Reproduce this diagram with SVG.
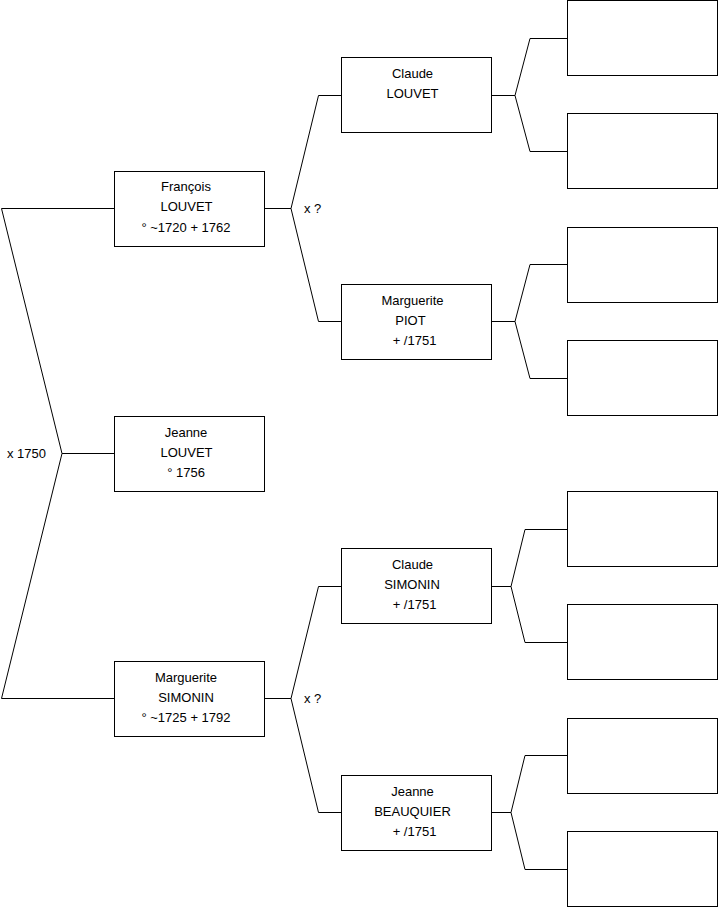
<svg xmlns="http://www.w3.org/2000/svg" width="719" height="908" viewBox="0 0 719 908">
<style>
.b{fill:#fff;stroke:#000;stroke-width:1}
.c{fill:none;stroke:#000;stroke-width:1}
text{font-family:"Liberation Sans",Arial,sans-serif;font-size:13px;fill:#000}
.m{text-anchor:middle}
</style>
<rect width="719" height="908" fill="#fff"/>
<g id="connectors">
<polyline class="c" points="114,208.5 1.5,208.5 62,453.5 1.5,698.5 114,698.5"/>
<line class="c" x1="62" y1="453.5" x2="114" y2="453.5"/>
<polyline class="c" points="341,95.5 318.5,95.5 291,208.5 318.5,321.5 341,321.5"/>
<line class="c" x1="265" y1="208.5" x2="291" y2="208.5"/>
<polyline class="c" points="341,586.5 318.5,586.5 291,698.5 318.5,812.5 341,812.5"/>
<line class="c" x1="265" y1="698.5" x2="291" y2="698.5"/>
<polyline class="c" points="567,38.5 530,38.5 515,95.5 530,151.5 567,151.5"/>
<line class="c" x1="491" y1="95.5" x2="515" y2="95.5"/>
<polyline class="c" points="567,264.5 530,264.5 515,321.5 530,378.5 567,378.5"/>
<line class="c" x1="491" y1="321.5" x2="515" y2="321.5"/>
<polyline class="c" points="567,529.5 525,529.5 511,586.5 525,642.5 567,642.5"/>
<line class="c" x1="491" y1="586.5" x2="511" y2="586.5"/>
<polyline class="c" points="567,755.5 525,755.5 511,812.5 525,869.5 567,869.5"/>
<line class="c" x1="491" y1="812.5" x2="511" y2="812.5"/>
<text x="7" y="457.5">x 1750</text>
<text x="304" y="212.5">x ?</text>
<text x="304" y="702.5">x ?</text>
</g>
<g id="francois">
<rect class="b" x="114.5" y="171.5" width="150" height="75"/>
<text class="m" x="186" y="191">François</text>
<text class="m" x="186.5" y="211">LOUVET</text>
<text class="m" x="186" y="231.5">° ~1720 + 1762</text>
</g>
<g id="jeanne">
<rect class="b" x="114.5" y="416.5" width="150" height="75"/>
<text class="m" x="186" y="436.5">Jeanne</text>
<text class="m" x="186.5" y="456.5">LOUVET</text>
<text class="m" x="186" y="477">° 1756</text>
</g>
<g id="marguerite-simonin">
<rect class="b" x="114.5" y="661.5" width="150" height="75"/>
<text class="m" x="186" y="681.5">Marguerite</text>
<text class="m" x="186" y="701.5">SIMONIN</text>
<text class="m" x="186" y="722">° ~1725 + 1792</text>
</g>
<g id="claude-louvet">
<rect class="b" x="341.5" y="57.5" width="150" height="75"/>
<text class="m" x="412.5" y="77.5">Claude</text>
<text class="m" x="412.5" y="97.5">LOUVET</text>
</g>
<g id="marguerite-piot">
<rect class="b" x="341.5" y="284.5" width="150" height="75"/>
<text class="m" x="412.5" y="304.5">Marguerite</text>
<text class="m" x="410.5" y="324.5">PIOT</text>
<text class="m" x="414.5" y="345">+ /1751</text>
</g>
<g id="claude-simonin">
<rect class="b" x="341.5" y="548.5" width="150" height="75"/>
<text class="m" x="412.5" y="568.5">Claude</text>
<text class="m" x="412" y="588.5">SIMONIN</text>
<text class="m" x="414.5" y="609">+ /1751</text>
</g>
<g id="jeanne-beauquier">
<rect class="b" x="341.5" y="775.5" width="150" height="75"/>
<text class="m" x="412.5" y="795.5">Jeanne</text>
<text class="m" x="412.5" y="815.5">BEAUQUIER</text>
<text class="m" x="414.5" y="836">+ /1751</text>
</g>
<g id="g3-1"><rect class="b" x="567.5" y="0.5" width="150" height="75"/></g>
<g id="g3-2"><rect class="b" x="567.5" y="113.5" width="150" height="75"/></g>
<g id="g3-3"><rect class="b" x="567.5" y="227.5" width="150" height="75"/></g>
<g id="g3-4"><rect class="b" x="567.5" y="340.5" width="150" height="75"/></g>
<g id="g3-5"><rect class="b" x="567.5" y="491.5" width="150" height="75"/></g>
<g id="g3-6"><rect class="b" x="567.5" y="604.5" width="150" height="75"/></g>
<g id="g3-7"><rect class="b" x="567.5" y="718.5" width="150" height="75"/></g>
<g id="g3-8"><rect class="b" x="567.5" y="831.5" width="150" height="75"/></g>
</svg>
